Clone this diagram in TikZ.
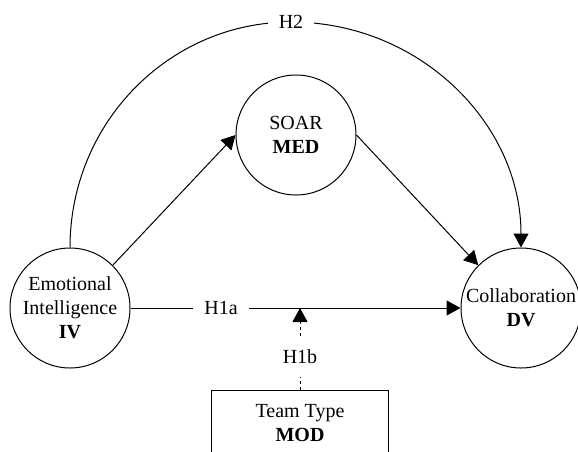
\documentclass[tikz,border=0pt]{standalone}
\usepackage{fontspec}
\usepackage{xcolor}
\setmainfont{Liberation Serif}
\usetikzlibrary{arrows.meta}

\begin{document}
\begin{tikzpicture}[x=1pt,y=-1pt,
	var/.style={circle,draw,line width=1pt,minimum size=120pt,inner sep=0pt,align=center,font=\fontsize{20}{24}\selectfont},
	modbox/.style={rectangle,draw,line width=1pt,minimum width=177pt,minimum height=67pt,align=center,font=\fontsize{20}{24}\selectfont},
	hyp/.style={fill=white,inner xsep=11pt,inner ysep=3pt,font=\fontsize{20}{24}\selectfont},
	arr/.style={line width=1pt,-{Triangle[length=14pt,width=15pt]}}]
	\useasboundingbox (0,0) rectangle (578,451);
	\clip (0,0) rectangle (578,451);
	
	\node [var] (ei) at (70,308) {Emotional\\Intelligence\\\textbf{IV}};
	\node [var] (soar) at (296,135) {SOAR\\\textbf{MED}};
	\node [var] (dv) at (521,308) {Collaboration\\\textbf{DV}};
	\node [modbox] (mod) at (300,423.5) {Team Type\\\textbf{MOD}};
	
	\draw [arr] (ei.45) -- (soar.west);
	\draw [arr] (soar.east) -- (dv.135);
	\draw [arr] (ei.east) -- (dv.west);
	\node [hyp] (h1a) at (221,308) {H1a};
	
	% moderator path
	\coordinate (meet) at (300,308);
	\draw [arr,dash pattern=on 3pt off 3pt] (mod.north) -- (meet);
	\node [hyp,inner ysep=13pt] (h1b) at (300,357) {H1b};
	
	% direct path over the top
	\coordinate (apex) at (291,22);
	\draw [arr] (ei.north) .. controls (70,123) and (169,22) .. (apex)
		.. controls (419,22) and (521,123) .. (dv.north);
	\node [hyp] (h2) at (apex) {H2};
\end{tikzpicture}
\end{document}
